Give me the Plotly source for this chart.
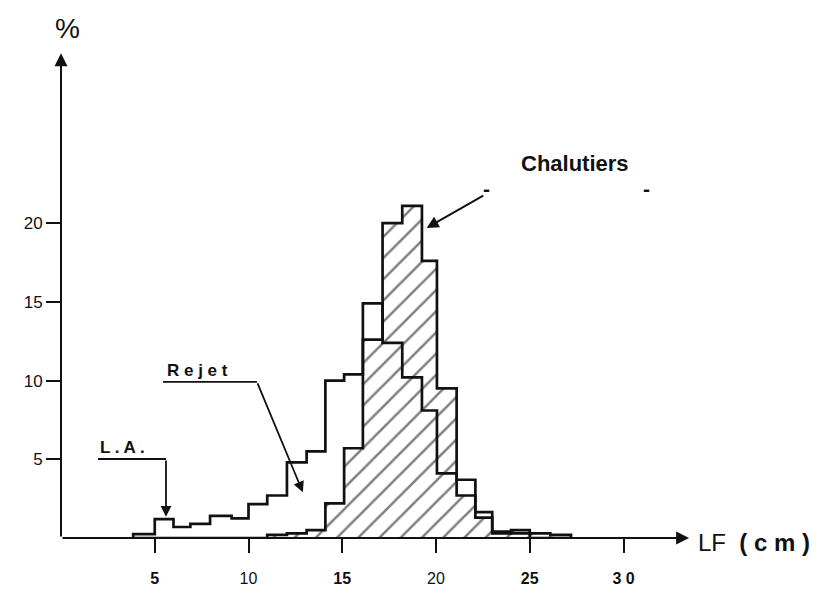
import plotly.graph_objects as go

# ---- data ----
bin_edges = [3.85, 5.0, 6.0, 6.9, 7.95, 9.1, 10.0, 11.0, 12.05, 13.1, 14.1, 15.1,
             16.1, 17.15, 18.2, 19.25, 20.05, 21.1, 22.1, 23.0, 24.0, 25.0, 26.1, 27.2]
rejet = [0.25, 1.2, 0.7, 0.9, 1.4, 1.25, 2.15, 2.7, 4.8, 5.5, 10.0, 10.4,
         14.9, 12.4, 10.2, 8.1, 4.1, 3.7, 1.65, 0.4, 0.3, 0.0, 0.0]
chalutiers = [0.0, 0.0, 0.0, 0.0, 0.0, 0.0, 0.0, 0.2, 0.3, 0.5, 2.2, 5.7,
              12.6, 20.0, 21.1, 17.6, 9.5, 2.7, 1.3, 0.3, 0.5, 0.3, 0.2]
x_tick_vals = [5, 10, 15, 20, 25, 30]
x_tick_text = ["<b>5</b>", "10", "<b>15</b>", "20", "<b>25</b>", "<b>3 0</b>"]
y_tick_vals = [5, 10, 15, 20]
y_tick_text = ["5", "10", "15", "20"]

INK = "#111111"
FONT = "Liberation Sans, Arial, sans-serif"

centers = [(a + b) / 2 for a, b in zip(bin_edges[:-1], bin_edges[1:])]
widths = [b - a for a, b in zip(bin_edges[:-1], bin_edges[1:])]


def step_outline(edges, vals):
    xs, ys = [edges[0]], [0]
    for i, v in enumerate(vals):
        xs += [edges[i], edges[i + 1]]
        ys += [v, v]
    xs.append(edges[-1])
    ys.append(0)
    return xs, ys


fig = go.Figure()

fig.add_trace(go.Bar(
    x=centers, y=chalutiers, width=widths,
    marker=dict(color="white",
                pattern=dict(shape="/", fgcolor="#000000", bgcolor="white",
                             size=15, solidity=0.17),
                line=dict(width=0)),
    hoverinfo="skip", showlegend=False,
))

rx, ry = step_outline(bin_edges, rejet)
fig.add_trace(go.Scatter(x=rx, y=ry, mode="lines",
                         line=dict(color=INK, width=2.7), showlegend=False))
cx, cy = step_outline(bin_edges, chalutiers)
fig.add_trace(go.Scatter(x=cx, y=cy, mode="lines",
                         line=dict(color=INK, width=2.7), showlegend=False))

annotations = [
    # axes with arrowheads
    dict(x=33.5, y=0, ax=0, ay=0, xref="x", yref="y", axref="x", ayref="y",
         text="", showarrow=True, arrowhead=2, arrowsize=1.3, arrowwidth=2, arrowcolor=INK),
    dict(x=0, y=30.8, ax=0, ay=0, xref="x", yref="y", axref="x", ayref="y",
         text="", showarrow=True, arrowhead=2, arrowsize=1.3, arrowwidth=2, arrowcolor=INK),
    # axis titles (paper coordinates)
    dict(x=0.011, y=1.045, xref="paper", yref="paper", text="%", showarrow=False,
         xanchor="center", yanchor="middle",
         font=dict(size=28, color=INK, family=FONT)),
    dict(x=1.008, y=-0.01, xref="paper", yref="paper", text="LF  <b>( c m )</b>",
         showarrow=False, xanchor="left", yanchor="middle",
         font=dict(size=24, color=INK, family=FONT)),
    # Chalutiers label
    dict(x=27.4, y=23.8, xref="x", yref="y", text="<b>Chalutiers</b>", showarrow=False,
         font=dict(size=22, color=INK, family=FONT)),
    dict(x=22.7, y=22.2, xref="x", yref="y", text="<b>-</b>", showarrow=False,
         font=dict(size=21, color=INK, family=FONT)),
    dict(x=31.2, y=22.2, xref="x", yref="y", text="<b>-</b>", showarrow=False,
         font=dict(size=21, color=INK, family=FONT)),
    dict(x=19.5, y=19.7, ax=22.6, ay=21.8, xref="x", yref="y", axref="x", ayref="y",
         text="", showarrow=True, arrowhead=2, arrowsize=1.2, arrowwidth=2, arrowcolor=INK),
    # Rejet label + leader
    dict(x=7.3, y=10.65, xref="x", yref="y", text="<b>R e j e t</b>", showarrow=False,
         font=dict(size=17, color=INK, family=FONT)),
    dict(x=12.9, y=2.9, ax=10.45, ay=9.92, xref="x", yref="y", axref="x", ayref="y",
         text="", showarrow=True, arrowhead=2, arrowsize=1.2, arrowwidth=1.8, arrowcolor=INK),
    # L.A. label + leader
    dict(x=3.3, y=5.75, xref="x", yref="y", text="<b>L . A .</b>", showarrow=False,
         font=dict(size=17, color=INK, family=FONT)),
    dict(x=5.6, y=1.35, ax=5.6, ay=5.02, xref="x", yref="y", axref="x", ayref="y",
         text="", showarrow=True, arrowhead=2, arrowsize=1.2, arrowwidth=1.8, arrowcolor=INK),
]

shapes = [
    dict(type="line", xref="x", yref="y", x0=5.44, y0=9.92, x1=10.45, y1=9.92,
         line=dict(color=INK, width=1.8)),
    dict(type="line", xref="x", yref="y", x0=1.97, y0=5.02, x1=5.6, y1=5.02,
         line=dict(color=INK, width=1.8)),
]

fig.update_layout(
    width=819, height=596,
    margin=dict(l=53, r=136, t=42, b=66),
    paper_bgcolor="white", plot_bgcolor="white",
    bargap=0, showlegend=False,
    annotations=annotations, shapes=shapes,
    font=dict(family=FONT, color=INK),
    xaxis=dict(range=[0, 33.6], showgrid=False, zeroline=False, showline=False,
               tickmode="array", tickvals=x_tick_vals, ticktext=x_tick_text,
               ticks="outside", ticklen=14, tickwidth=2, tickcolor=INK,
               ticklabelstandoff=12, tickfont=dict(size=16, color=INK, family=FONT)),
    yaxis=dict(range=[0, 31], showgrid=False, zeroline=False, showline=False,
               tickmode="array", tickvals=y_tick_vals, ticktext=y_tick_text,
               ticks="outside", ticklen=14, tickwidth=2, tickcolor=INK,
               tickfont=dict(size=17, color=INK, family=FONT)),
)

fig.write_html("out.html")
